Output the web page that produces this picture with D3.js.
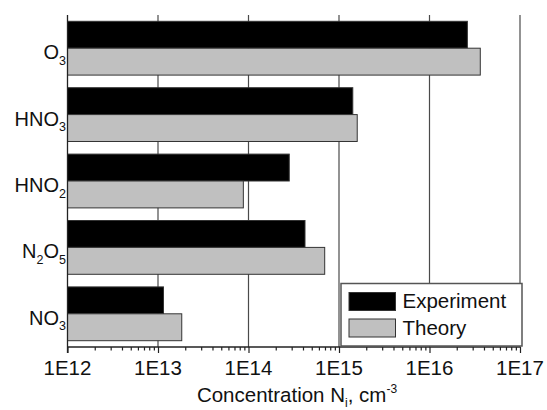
<!DOCTYPE html>
<html>
<head>
<meta charset="utf-8">
<script src="https://cdn.jsdelivr.net/npm/d3@7"></script>
<style>
  html, body { margin: 0; padding: 0; background: #fff; }
  svg { display: block; font-family: "Liberation Sans", Arial, sans-serif; }
</style>
</head>
<body>
<svg id="chart" width="547" height="410"></svg>
<script>
// Species (top to bottom) and measured / computed number densities, cm^-3
const species = ["O3", "HNO3", "HNO2", "N2O5", "NO3"];
const experiment = [2.62e16, 1.42e15, 2.82e14, 4.21e14, 1.15e13];
const theory = [3.64e16, 1.59e15, 8.77e13, 6.95e14, 1.83e13];
const seriesNames = ["Experiment", "Theory"];
const seriesColors = ["#000000", "#c0c0c0"];
const tickValues = [1e12, 1e13, 1e14, 1e15, 1e16, 1e17];

const svg = d3.select("#chart");
const margin = { left: 67.5, right: 27, top: 15, bottom: 63 };
const W = 547, H = 410;
const x0 = margin.left, x1 = W - margin.right;
const yTop = margin.top, yBot = H - margin.bottom;

const x = d3.scaleLog().domain([1e12, 1e17]).range([x0, x1]);
const y = d3.scaleBand().domain(species).range([yTop, yBot])
  .paddingInner(0.19).paddingOuter(0.095);
const ySub = d3.scaleBand().domain(seriesNames).range([0, y.bandwidth()]);

// vertical grid lines at each decade
svg.append("g").selectAll("line").data(tickValues.slice(1)).join("line")
  .attr("x1", d => x(d)).attr("x2", d => x(d))
  .attr("y1", yTop).attr("y2", yBot)
  .attr("stroke", "#4a4a4a").attr("stroke-width", 1.2);

// bars
const rows = species.map((s, i) => ({ s, vals: [experiment[i], theory[i]] }));
const grp = svg.append("g").selectAll("g").data(rows).join("g")
  .attr("transform", d => `translate(0,${y(d.s)})`);
grp.selectAll("rect").data(d => d.vals.map((v, k) => ({ v, k }))).join("rect")
  .attr("x", x0)
  .attr("y", d => ySub(seriesNames[d.k]))
  .attr("width", d => x(d.v) - x0)
  .attr("height", ySub.bandwidth())
  .attr("fill", d => seriesColors[d.k])
  .attr("stroke", "#333").attr("stroke-width", 1);

// bottom axis with log minor ticks below the line
const xAxis = d3.axisBottom(x)
  .tickValues(x.ticks())
  .tickSize(0)
  .tickFormat("");
const ax = svg.append("g").attr("transform", `translate(0,${yBot})`).call(xAxis);
ax.select(".domain").remove();
ax.selectAll(".tick line")
  .attr("y2", d => tickValues.includes(d) ? 6 : 3.5)
  .attr("stroke", "#222").attr("stroke-width", 1.2);
svg.append("line").attr("x1", x0).attr("x2", x1).attr("y1", yBot).attr("y2", yBot)
  .attr("stroke", "#222").attr("stroke-width", 1.3);
svg.append("line").attr("x1", x0).attr("x2", x0).attr("y1", yTop).attr("y2", yBot + 6)
  .attr("stroke", "#222").attr("stroke-width", 1.3);

// decade labels
svg.append("g").selectAll("text").data(tickValues).join("text")
  .attr("x", d => x(d)).attr("y", 374.5)
  .attr("text-anchor", "middle").attr("font-size", 20.5).attr("fill", "#111")
  .text(d => "1E" + Math.round(Math.log10(d)));

// category labels with subscripted digits
const lab = svg.append("g").selectAll("text").data(species).join("text")
  .attr("x", 66).attr("y", d => y(d) + y.bandwidth() / 2 + 11)
  .attr("text-anchor", "end").attr("font-size", 20).attr("fill", "#111");
lab.each(function (d) {
  const t = d3.select(this);
  const parts = d.match(/[A-Za-z]+|\d+/g);
  let sub = false;
  parts.forEach(p => {
    const isNum = /\d/.test(p);
    const ts = t.append("tspan").text(p);
    if (isNum && !sub) { ts.attr("font-size", 12.5).attr("dy", 5.5); sub = true; }
    else if (!isNum && sub) { ts.attr("dy", -5.5); sub = false; }
    else if (isNum) { ts.attr("font-size", 12.5); }
  });
});

// axis title
const title = svg.append("text").attr("x", 297).attr("y", 401.5)
  .attr("text-anchor", "middle").attr("font-size", 20.5).attr("fill", "#111");
title.append("tspan").text("Concentration N");
title.append("tspan").attr("font-size", 12).attr("dy", 5).text("i");
title.append("tspan").attr("dy", -5).text(", cm");
title.append("tspan").attr("font-size", 12).attr("dy", -9).text("-3");

// legend
const lg = svg.append("g");
lg.append("rect").attr("x", 341).attr("y", 283.5).attr("width", 181).attr("height", 62.5)
  .attr("fill", "#fff").attr("stroke", "#555").attr("stroke-width", 1.5);
seriesNames.forEach((n, i) => {
  lg.append("rect").attr("x", 349).attr("y", 292.5 + i * 26.5).attr("width", 46.5).attr("height", 18)
    .attr("fill", seriesColors[i]).attr("stroke", "#333").attr("stroke-width", 1);
  lg.append("text").attr("x", 402.5).attr("y", 308.3 + i * 26.5)
    .attr("font-size", 20.5).attr("fill", "#111").text(n);
});
</script>
</body>
</html>
